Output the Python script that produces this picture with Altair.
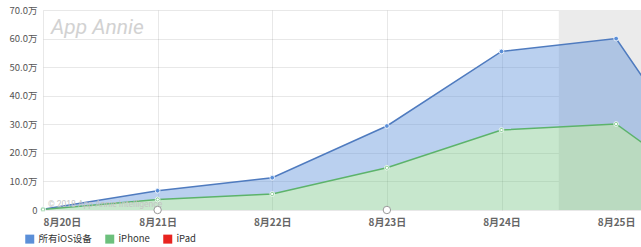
import altair as alt
import pandas as pd

days = [20, 21, 22, 23, 24, 25, 26]
all_ios = [0.3, 6.75, 11.3, 29.4, 55.5, 60.0, 1.5]
iphone = [0.2, 3.7, 5.6, 14.8, 28.0, 30.1, 1.3]
series = ["所有iOS设备", "iPhone", "iPad"]
series_colors = ["#5b8fd8", "#6cc07c", "#e8231f"]
line_colors = ["#4f7bbf", "#5cb36b"]
y_ticks = [0, 10, 20, 30, 40, 50, 60, 70]
x_ticks = [20, 21, 22, 23, 24, 25]
x_domain = [20, 25.217]
weekend = [24.5, 25.217]
annotation_days = [21, 23]

wide = pd.DataFrame({"day": days, "all": all_ios, "iphone": iphone})
long = pd.concat([
    pd.DataFrame({"day": days, "value": all_ios, "series": series[0]}),
    pd.DataFrame({"day": days, "value": iphone, "series": series[1]}),
])
long_in = long[long["day"] <= x_domain[1]]
band = pd.DataFrame({"x": [weekend[0]], "x2": [weekend[1]]})
ann = pd.DataFrame({"day": annotation_days, "value": [0, 0]})

W, H = 598, 200

xs = alt.Scale(domain=x_domain, nice=False, zero=False)
ys = alt.Scale(domain=[0, 70], nice=False)

x_axis = alt.Axis(values=x_ticks, labelExpr="'8月' + datum.value + '日'", title=None,
                  labelFlush=True, labelOverlap=False, ticks=False, domain=False,
                  grid=True, gridColor="#000", gridOpacity=0.09, labelFontSize=10,
                  labelColor="#666", labelFontWeight="bold", labelPadding=7,
                  labelFont="Noto Sans CJK SC")
y_axis = alt.Axis(values=y_ticks,
                  labelExpr="datum.value == 0 ? '0' : format(datum.value, '.1f') + '万'",
                  title=None, ticks=False, domain=False, grid=True, gridColor="#000",
                  gridOpacity=0.09, labelFontSize=9.5, labelColor="#555", labelPadding=6,
                  labelOverlap=False, labelFont="Noto Sans CJK SC")


def X(field):
    return alt.X(field, scale=xs, axis=x_axis)


def Y(field):
    return alt.Y(field, scale=ys, axis=y_axis)


base = alt.Chart(wide)

band_layer = alt.Chart(band).mark_rect(color="#ebebeb").encode(
    x=X("x:Q"),
    x2="x2:Q",
    y=alt.value(0),
    y2=alt.value(H),
)

blue_area = base.mark_area(color=series_colors[0], opacity=0.42, clip=True).encode(
    x=X("day:Q"), y=Y("all:Q"), y2="iphone:Q",
)
green_area = base.mark_area(color=series_colors[1], opacity=0.38, clip=True).encode(
    x=X("day:Q"), y=Y("iphone:Q"),
)
blue_line = base.mark_line(color=line_colors[0], strokeWidth=1.5, clip=True).encode(
    x=X("day:Q"), y=Y("all:Q"),
)
green_line = base.mark_line(color=line_colors[1], strokeWidth=1.5, clip=True).encode(
    x=X("day:Q"), y=Y("iphone:Q"),
)

points = alt.Chart(long_in).mark_point(filled=True, size=22, opacity=1,
                                       stroke="white", strokeWidth=0.8).encode(
    x=X("day:Q"),
    y=Y("value:Q"),
    color=alt.Color("series:N",
                    scale=alt.Scale(domain=series, range=series_colors),
                    legend=alt.Legend(title=None, orient="none", legendX=-18, legendY=224,
                                      direction="horizontal", symbolType="square",
                                      symbolSize=81, symbolStrokeWidth=0,
                                      symbolOpacity=1, labelFontSize=9.5,
                                      labelColor="#333", columnPadding=13,
                                      labelOffset=4, labelFont="Noto Sans CJK SC")),
)
green_inner = alt.Chart(long_in[long_in["series"] == series[1]]).mark_point(
    filled=True, size=6, color="white", opacity=1).encode(
    x=X("day:Q"), y=Y("value:Q"),
)

ann_layer = alt.Chart(ann).mark_point(shape="circle", size=55, filled=True, fill="white",
                                      stroke="#999", strokeWidth=1, opacity=1).encode(
    x=X("day:Q"), y=Y("value:Q"),
)

watermark = alt.Chart(band).mark_text(text="App Annie", font="Roboto",
                                      fontStyle="italic", fontSize=21, color="#d2d2d2",
                                      align="left", baseline="middle").encode(
    x=alt.value(8), y=alt.value(18))
copyright = alt.Chart(band).mark_text(text="© 2018 App Annie Intelligence", font="Roboto",
                                      fontSize=8.5, color="#c4c4c4", align="left",
                                      baseline="alphabetic").encode(
    x=alt.value(5), y=alt.value(197))

chart = alt.layer(
    band_layer, blue_area, green_area, blue_line, green_line,
    watermark, copyright, points, green_inner, ann_layer
).properties(
    width=W, height=H,
    autosize=alt.AutoSizeParams(type="none"),
    padding={"left": 43, "top": 10, "right": 0, "bottom": 37},
).configure_view(stroke=None).configure_axis(zindex=1)

chart.save("out.html", embed_options={"renderer": "svg", "actions": False})
